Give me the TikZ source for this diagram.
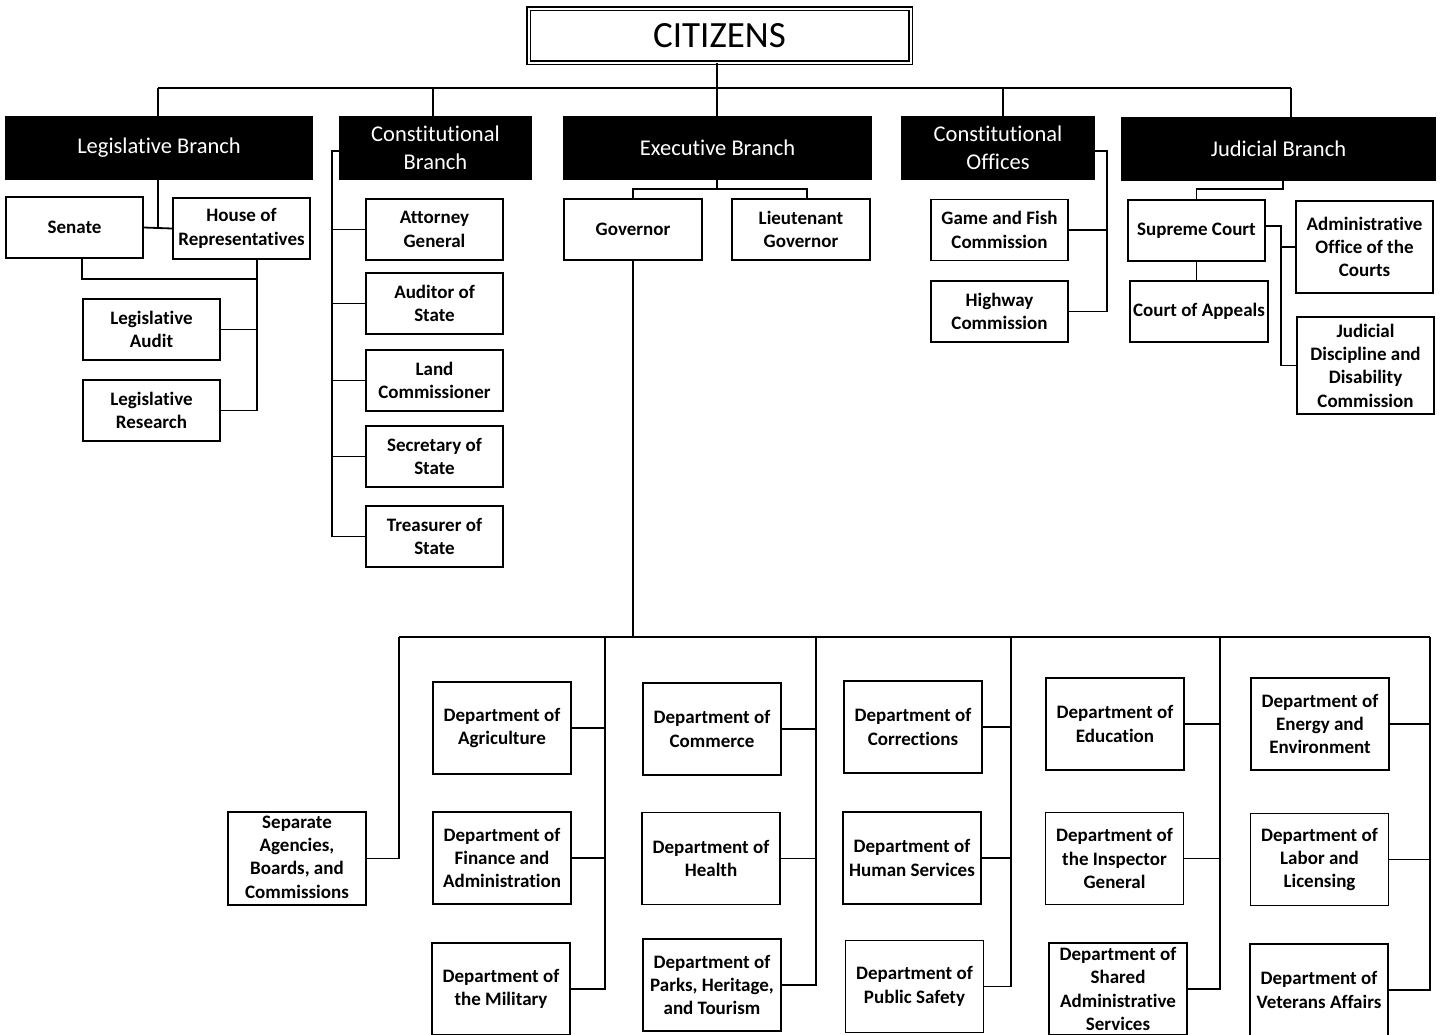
\documentclass[tikz,border=0pt]{standalone}
\usepackage{fontspec}
\setmainfont{Carlito}[Ligatures={NoCommon,NoContextual}]
\begin{document}
\begin{tikzpicture}[x=1pt,y=-1pt,
  line width=1.8pt,
  lbox/.style={draw=black, line width=1.8pt, fill=white, align=center, inner sep=0pt,
    font=\bfseries\fontsize{19}{23.3}\selectfont, minimum width=137pt, minimum height=61pt},
  dbox/.style={lbox, minimum width=138pt, minimum height=92pt},
  bbox/.style={draw=black, fill=black, text=white, align=center, inner sep=0pt,
    font=\fontsize{22.5}{28.5}\selectfont, minimum height=62pt},
  conn/.style={draw=black, line width=1.8pt}]
\useasboundingbox (0,0) rectangle (1440,1034);
\clip (0,0) rectangle (1440,1034);
\fill[white] (0,0) rectangle (1440,1034);

% citizens
\node[draw=black, double, double distance=2pt, line width=1.6pt, fill=white,
  minimum width=382pt, minimum height=54pt, inner sep=0pt,
  font=\fontsize{37}{40}\selectfont] (cit) at (719.5,35.5) {CITIZENS};

% branch boxes
\node[bbox, minimum width=306pt] (leg) at (159,148) {\raisebox{-2pt}{Legislative Branch}};
\node[bbox, minimum width=191pt] (cbr) at (435.5,148) {Constitutional\\Branch};
\node[bbox, minimum width=307pt] (exe) at (717.5,148) {\raisebox{-2pt}{Executive Branch}};
\node[bbox, minimum width=192pt] (cof) at (998,148) {Constitutional\\Offices};
\node[bbox, minimum width=313pt] (jud) at (1278.5,149) {\raisebox{-2pt}{Judicial Branch}};

% legislative
\node[lbox] (sen) at (74.5,227.5) {Senate};
\node[lbox] (hou) at (241.5,228.5) {House of\\Representatives};
\node[lbox] (lau) at (151.5,329.5) {Legislative\\Audit};
\node[lbox] (lre) at (151.5,410.5) {Legislative\\Research};

% constitutional branch
\node[lbox] (ag)   at (434.5,229.5) {Attorney\\General};
\node[lbox] (aud)  at (434.5,303.5) {Auditor of\\State};
\node[lbox] (land) at (434.5,380.5) {Land\\Commissioner};
\node[lbox] (sec)  at (434.5,456.5) {Secretary of\\State};
\node[lbox] (tre)  at (434.5,536.5) {Treasurer of\\State};

% executive
\node[lbox, minimum width=138pt] (gov) at (633,229.5) {Governor};
\node[lbox, minimum width=138pt] (ltg) at (801,229.5) {Lieutenant\\Governor};

% constitutional offices
\node[lbox] (gaf) at (999.5,230) {Game and Fish\\Commission};
\node[lbox] (hwy) at (999.5,311.5) {Highway\\Commission};

% judicial
\node[lbox] (sup) at (1196.5,230.5) {Supreme Court};
\node[lbox, minimum width=138pt] (coa) at (1199,311.5) {Court of Appeals};
\node[lbox, minimum height=92pt] (aoc) at (1364.5,247) {Administrative\\Office of the\\Courts};
\node[lbox, minimum height=97pt] (jdd) at (1365.5,365.5) {Judicial\\Discipline and\\Disability\\Commission};

% departments
\node[dbox, minimum height=91pt] (sep) at (297,858.5) {\raisebox{-3pt}{\begin{tabular}{@{}c@{}}Separate\\Agencies,\\Boards, and\\Commissions\end{tabular}}};
\node[dbox] (agr) at (502,728) {Department of\\Agriculture};
\node[dbox] (fin) at (502,858) {Department of\\Finance and\\Administration};
\node[dbox] (mil) at (501,989) {Department of\\the Military};
\node[dbox] (com) at (712,729) {Department of\\Commerce};
\node[dbox] (hea) at (711,858.5) {Department of\\Health};
\node[dbox] (par) at (712,985) {Department of\\Parks, Heritage,\\and Tourism};
\node[dbox] (cor) at (913,727) {Department of\\Corrections};
\node[dbox] (hum) at (912,858) {Department of\\Human Services};
\node[dbox] (pub) at (914.5,986.5) {Department of\\Public Safety};
\node[dbox] (edu) at (1115,724) {Department of\\Education};
\node[dbox] (ins) at (1114.5,858.5) {Department of\\the Inspector\\General};
\node[dbox] (sha) at (1118,989) {Department of\\Shared\\Administrative\\Services};
\node[dbox] (ene) at (1320,724) {Department of\\Energy and\\Environment};
\node[dbox] (lab) at (1319.5,859.5) {Department of\\Labor and\\Licensing};
\node[dbox] (vet) at (1319,990) {Department of\\Veterans Affairs};

% junction coordinates
\coordinate (t1) at (158,88);
\coordinate (t2) at (433,88);
\coordinate (t3) at (717,88);
\coordinate (t4) at (1003,88);
\coordinate (t5) at (1291,88);
\coordinate (lb) at (82,279);
\coordinate (lv) at (257,279);
\coordinate (cv) at (332,151);
\coordinate (ej) at (717,189);
\coordinate (ltj) at (807,189);
\coordinate (ov) at (1107,151);
\coordinate (jj) at (1283,189);
\coordinate (jv) at (1281,226);
\coordinate (bl) at (399,637);
\coordinate (br) at (1430,637);
\coordinate (c1) at (605,637);
\coordinate (c2) at (816,637);
\coordinate (c3) at (1011,637);
\coordinate (c4) at (1220,637);
\coordinate (c5) at (1430,637);

% top connectors
\draw[conn] (cit.south -| t3) -- (t3);
\draw[conn] (t1) -- (t5);
\draw[conn] (t1) -- (t1 |- leg.north);
\draw[conn] (t2) -- (t2 |- cbr.north);
\draw[conn] (t3) -- (t3 |- exe.north);
\draw[conn] (t4) -- (t4 |- cof.north);
\draw[conn] (t5) -- (t5 |- jud.north);

% legislative connectors
\draw[conn] (leg.south -| t1) -- (t1 |- sen.east);
\draw[conn] (sen.east) -- (hou.west);
\draw[conn] (sen.south -| lb) -- (lb) -- (lv);
\draw[conn] (hou.south -| lv) -- (lv |- lre.east) -- (lre.east);
\draw[conn] (lau.east) -- (lau.east -| lv);

% constitutional branch connectors
\draw[conn] (cbr.west |- cv) -- (cv) |- (tre.west);
\draw[conn] (ag.west) -- (ag.west -| cv);
\draw[conn] (aud.west) -- (aud.west -| cv);
\draw[conn] (land.west) -- (land.west -| cv);
\draw[conn] (sec.west) -- (sec.west -| cv);

% executive connectors
\draw[conn] (exe.south -| ej) -- (ej);
\draw[conn] (gov.north) |- (ltj) -- (ltj |- ltg.north);
\draw[conn] (gov.south) -- (gov.south |- bl);

% constitutional offices connectors
\draw[conn] (cof.east |- ov) -- (ov) |- (hwy.east);
\draw[conn] (gaf.east) -- (gaf.east -| ov);

% judicial connectors
\draw[conn] (jud.south -| jj) -- (jj) -| (sup.north);
\draw[conn] (sup.south) -- (sup.south |- coa.north);
\draw[conn] (sup.east |- jv) -- (jv) |- (jdd.west);
\draw[conn] (aoc.west) -- (aoc.west -| jv);

% department bus
\draw[conn] (bl) -- (br);
\draw[conn] (bl) |- (sep.east);
\draw[conn] (c1) |- (mil.east);
\draw[conn] (agr.east) -- (agr.east -| c1);
\draw[conn] (fin.east) -- (fin.east -| c1);
\draw[conn] (c2) |- (par.east);
\draw[conn] (com.east) -- (com.east -| c2);
\draw[conn] (hea.east) -- (hea.east -| c2);
\draw[conn] (c3) |- (pub.east);
\draw[conn] (cor.east) -- (cor.east -| c3);
\draw[conn] (hum.east) -- (hum.east -| c3);
\draw[conn] (c4) |- (sha.east);
\draw[conn] (edu.east) -- (edu.east -| c4);
\draw[conn] (ins.east) -- (ins.east -| c4);
\draw[conn] (c5) |- (vet.east);
\draw[conn] (ene.east) -- (ene.east -| c5);
\draw[conn] (lab.east) -- (lab.east -| c5);
\end{tikzpicture}
\end{document}
